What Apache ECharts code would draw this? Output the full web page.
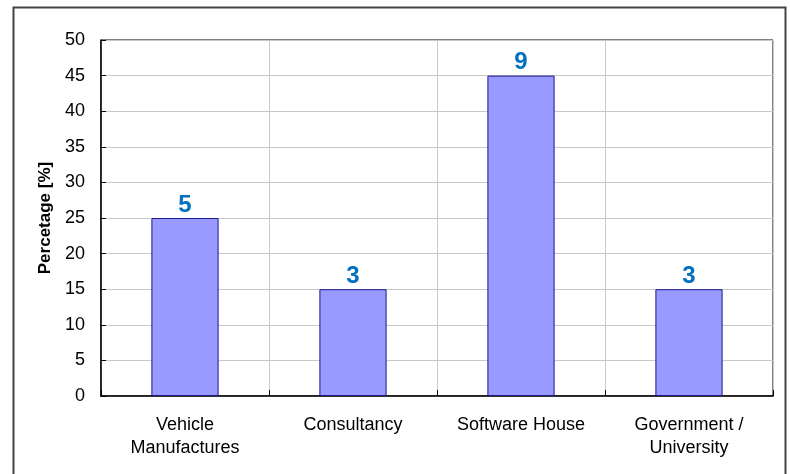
<!DOCTYPE html>
<html><head><meta charset="utf-8">
<script src="https://cdn.jsdelivr.net/npm/echarts@6/dist/echarts.min.js"></script>
<style>html,body{margin:0;padding:0;background:#fff}#c{width:790px;height:474px}</style>
</head><body><div id="c"></div>
<script>
var categories = ['Vehicle\nManufactures', 'Consultancy', 'Software House', 'Government /\nUniversity'];
var percentages = [25, 15, 45, 15];
var counts = [5, 3, 9, 3];
var yTicks = [0, 5, 10, 15, 20, 25, 30, 35, 40, 45, 50];

var chart = echarts.init(document.getElementById('c'), null, {renderer: 'canvas'});
var font = 'Liberation Sans, Arial, sans-serif';
chart.setOption({
  animation: false,
  backgroundColor: '#ffffff',
  graphic: [{
    type: 'rect', z: -1,
    shape: {x: 13.5, y: 7.5, width: 772, height: 480},
    style: {fill: 'none', stroke: '#444', lineWidth: 2}
  }],
  grid: {left: 101, right: 17, top: 40, bottom: 78, show: true, borderColor: '#000', borderWidth: 1},
  xAxis: {
    type: 'category', data: categories,
    axisLine: {lineStyle: {color: '#000', width: 1.5}},
    axisTick: {show: true, inside: true, length: 6, lineStyle: {color: '#000'}},
    splitLine: {show: true, lineStyle: {color: '#c8c8c8'}},
    axisLabel: {color: '#000', fontSize: 18, fontFamily: font, margin: 18, lineHeight: 23, interval: 0}
  },
  yAxis: {
    type: 'value', min: yTicks[0], max: yTicks[yTicks.length - 1], interval: yTicks[1] - yTicks[0],
    name: 'Percetage [%]', nameLocation: 'middle', nameGap: 47,
    nameTextStyle: {color: '#000', fontSize: 17, fontWeight: 'bold', fontFamily: font},
    axisLine: {show: true, lineStyle: {color: '#000', width: 1.5}},
    axisTick: {show: true, inside: true, length: 5, lineStyle: {color: '#000'}},
    splitLine: {show: true, lineStyle: {color: '#c8c8c8'}},
    axisLabel: {color: '#000', fontSize: 18, fontFamily: font, margin: 16}
  },
  series: [{
    type: 'bar',
    data: percentages,
    barWidth: '40%',
    itemStyle: {color: '#9999FF', borderColor: '#1a1a8c', borderWidth: 1},
    label: {
      show: true, position: 'top', distance: 1,
      formatter: function (p) { return counts[p.dataIndex]; },
      color: '#0070C0', fontSize: 24, fontWeight: 'bold', fontFamily: font
    }
  }]
});
</script></body></html>
